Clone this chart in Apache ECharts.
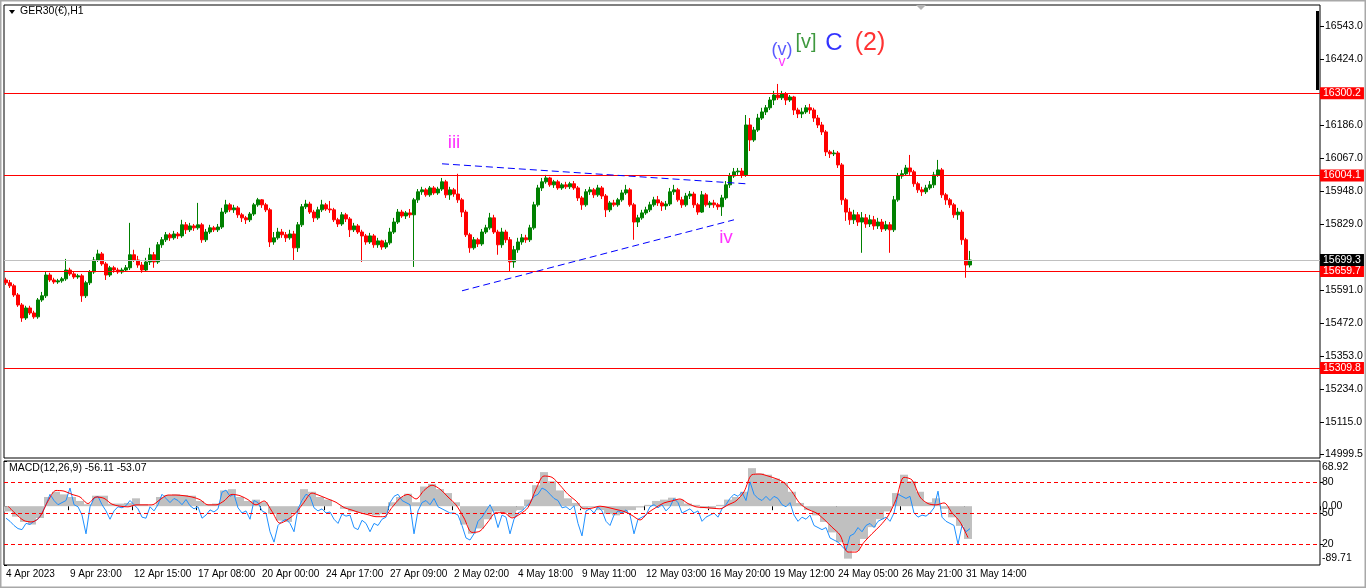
<!DOCTYPE html>
<html>
<head>
<meta charset="utf-8">
<script src="https://cdn.jsdelivr.net/npm/echarts@6/dist/echarts.min.js"></script>
<style>
html,body{margin:0;padding:0;background:#fff;}
#chart{width:1366px;height:588px;}
</style>
</head>
<body>
<div id="chart"></div>
<script>
// ---------- DATA ----------
const symbolTitle = 'GER30(€),H1';
const macdTitle = 'MACD(12,26,9) -56.11 -53.07';

// time-slot tick labels (one every 16 slots)
const dateLabels = ['4 Apr 2023','9 Apr 23:00','12 Apr 15:00','17 Apr 08:00','20 Apr 00:00','24 Apr 17:00','27 Apr 09:00','2 May 02:00','4 May 18:00','9 May 11:00','12 May 03:00','16 May 20:00','19 May 12:00','24 May 05:00','26 May 21:00','31 May 14:00'];

// candles [open, close, low, high]
const candles = [
[15627,15617,15609,15635],[15617,15606,15598,15627],[15606,15573,15566,15613],[15573,15537,15530,15580],[15537,15490,15476,15544],
[15490,15526,15483,15534],[15526,15508,15501,15534],[15508,15494,15487,15516],[15494,15555,15487,15562],[15555,15570,15548,15584],
[15570,15645,15562,15656],[15645,15627,15620,15653],[15627,15620,15613,15635],[15620,15624,15613,15631],[15624,15631,15617,15638],
[15631,15663,15624,15703],[15663,15649,15642,15671],[15649,15638,15631,15656],[15638,15642,15631,15649],[15642,15570,15548,15649],
[15570,15617,15562,15624],[15617,15656,15609,15663],[15656,15699,15649,15710],[15699,15721,15692,15736],[15721,15685,15678,15728],
[15685,15645,15627,15692],[15645,15671,15638,15678],[15671,15663,15653,15678],[15663,15656,15649,15671],[15656,15663,15649,15671],
[15663,15671,15656,15681],[15671,15718,15663,15833],[15718,15699,15692,15736],[15699,15681,15671,15714],[15681,15663,15653,15692],
[15663,15692,15656,15707],[15692,15718,15681,15743],[15718,15692,15671,15728],[15692,15754,15685,15764],[15754,15772,15743,15782],
[15772,15790,15764,15800],[15790,15779,15768,15797],[15779,15793,15772,15804],[15793,15786,15775,15800],[15786,15826,15779,15844],
[15826,15808,15793,15836],[15808,15822,15800,15833],[15822,15815,15804,15829],[15815,15826,15808,15905],[15826,15772,15761,15833],
[15772,15800,15764,15811],[15800,15815,15793,15826],[15815,15808,15800,15822],[15808,15818,15800,15829],[15818,15872,15811,15887],
[15872,15898,15865,15916],[15898,15880,15872,15905],[15880,15887,15869,15898],[15887,15862,15851,15894],[15862,15851,15836,15869],
[15851,15844,15829,15858],[15844,15865,15836,15872],[15865,15898,15858,15905],[15898,15916,15891,15923],[15916,15898,15887,15919],
[15898,15880,15872,15905],[15880,15764,15746,15887],[15764,15779,15754,15800],[15779,15800,15772,15815],[15800,15790,15779,15811],
[15790,15779,15764,15800],[15779,15793,15772,15808],[15793,15743,15699,15804],[15743,15826,15728,15836],[15826,15891,15818,15901],
[15891,15901,15883,15916],[15901,15872,15865,15909],[15872,15851,15836,15880],[15851,15880,15844,15891],[15880,15898,15872,15916],
[15898,15883,15876,15905],[15883,15880,15869,15912],[15880,15844,15836,15887],[15844,15829,15818,15851],[15829,15862,15822,15872],
[15862,15847,15836,15869],[15847,15808,15782,15854],[15808,15822,15800,15833],[15822,15800,15793,15829],[15800,15786,15692,15808],
[15786,15764,15754,15793],[15764,15786,15757,15797],[15786,15754,15743,15793],[15754,15768,15743,15779],[15768,15746,15736,15772],
[15746,15761,15739,15772],[15761,15800,15754,15815],[15800,15836,15793,15851],[15836,15872,15829,15883],[15872,15858,15851,15880],
[15858,15869,15847,15876],[15869,15862,15851,15883],[15862,15916,15674,15923],[15916,15945,15905,15955],[15945,15952,15934,15963],
[15952,15934,15927,15959],[15934,15959,15927,15966],[15959,15941,15934,15966],[15941,15955,15934,15963],[15955,15981,15948,15995],
[15981,15934,15923,15988],[15934,15952,15916,15963],[15952,15937,15927,15959],[15937,15916,15905,16010],[15916,15872,15854,15923],
[15872,15790,15782,15880],[15790,15743,15725,15797],[15743,15772,15736,15782],[15772,15757,15746,15779],[15757,15800,15750,15811],
[15800,15815,15793,15826],[15815,15851,15808,15869],[15851,15800,15793,15862],[15800,15754,15718,15808],[15754,15800,15743,15815],
[15800,15772,15761,15808],[15772,15692,15656,15782],[15692,15736,15671,15750],[15736,15764,15725,15779],[15764,15779,15754,15793],
[15779,15772,15761,15790],[15772,15815,15764,15826],[15815,15898,15808,15909],[15898,15959,15891,15970],[15959,15981,15948,15995],
[15981,15995,15974,16006],[15995,15970,15963,15999],[15970,15981,15959,15988],[15981,15959,15952,15988],[15959,15970,15952,15977],
[15970,15963,15955,15981],[15963,15974,15955,15981],[15974,15959,15952,15984],[15959,15923,15912,15966],[15923,15898,15880,15930],
[15898,15945,15891,15955],[15945,15952,15934,15963],[15952,15934,15923,15959],[15934,15959,15927,15970],[15959,15930,15919,15966],
[15930,15880,15854,15937],[15880,15905,15872,15912],[15905,15898,15891,15916],[15898,15916,15891,15923],[15916,15941,15909,15952],
[15941,15952,15934,15970],[15952,15898,15891,15959],[15898,15836,15772,15905],[15836,15851,15818,15862],[15851,15869,15844,15880],
[15869,15880,15862,15891],[15880,15898,15872,15909],[15898,15916,15891,15927],[15916,15905,15894,15930],[15905,15894,15876,15912],
[15894,15901,15880,15912],[15901,15945,15894,15959],[15945,15952,15934,15970],[15952,15916,15909,15959],[15916,15898,15887,15927],
[15898,15930,15891,15941],[15930,15937,15919,15948],[15937,15898,15887,15945],[15898,15872,15862,15905],[15872,15934,15869,15948],
[15934,15898,15891,15941],[15898,15905,15887,15912],[15905,15898,15887,15916],[15898,15891,15880,15905],[15891,15923,15858,15934],
[15923,15970,15916,15984],[15970,16002,15959,16013],[16002,16017,15995,16031],[16017,16020,16006,16031],[16020,16006,15995,16031],
[16006,16186,15999,16222],[16186,16132,16092,16211],[16132,16168,16125,16179],[16168,16211,16161,16226],[16211,16233,16204,16248],
[16233,16248,16222,16258],[16248,16276,16240,16287],[16276,16294,16258,16309],[16294,16284,16276,16334],[16284,16298,16276,16309],
[16298,16276,16258,16305],[16276,16287,16269,16294],[16287,16240,16222,16291],[16240,16226,16211,16248],[16226,16233,16211,16248],
[16233,16248,16226,16258],[16248,16240,16226,16262],[16240,16211,16197,16248],[16211,16186,16175,16222],[16186,16161,16150,16197],
[16161,16089,16074,16168],[16089,16082,16067,16096],[16082,16085,16074,16096],[16085,16042,16031,16092],[16042,15916,15898,16049],
[15916,15872,15840,15923],[15872,15844,15826,15887],[15844,15862,15829,15880],[15862,15836,15822,15872],[15836,15851,15725,15872],
[15851,15829,15815,15865],[15829,15844,15818,15862],[15844,15822,15808,15858],[15822,15836,15811,15851],[15836,15811,15800,15847],
[15811,15826,15804,15840],[15826,15808,15725,15836],[15808,15916,15800,15930],[15916,16002,15909,16013],[16002,16010,15992,16024],
[16010,16031,16002,16042],[16031,16017,16006,16078],[16017,15974,15963,16024],[15974,15952,15941,15981],[15952,15945,15930,15963],
[15945,15959,15937,15970],[15959,15970,15952,15984],[15970,16006,15959,16017],[16006,16024,15999,16060],[16024,15934,15923,16031],
[15934,15916,15898,15941],[15916,15898,15887,15923],[15898,15862,15851,15905],[15862,15872,15844,15887],[15872,15772,15754,15880],
[15772,15681,15635,15779],[15681,15699,15672,15732]
];

// oscillator in the lower window (0-100 scale), one value per candle
const oscLine = [
45,42,38,35,34,40,39,42,44,50, 58,68,62,58,60,62,74,58,56,48,
30,56,64,66,58,52,44,52,56,55, 57,62,58,54,46,45,56,52,58,68,
64,60,64,62,58,63,57,54,56,45, 48,53,51,54,70,72,66,68,55,50,
52,44,62,60,52,50,32,22,38,42, 44,40,32,54,62,68,66,55,52,54,
50,51,44,40,49,47,48,36,34,43, 40,32,40,38,44,46,60,66,68,62,
60,58,30,52,60,62,58,64,56,54, 52,50,50,48,38,26,24,30,42,46,
52,58,50,36,48,46,30,44,50,52, 56,60,66,68,74,72,68,64,62,55,
56,53,57,40,28,52,54,50,56,52, 42,38,48,52,50,53,48,30,44,46,
48,56,58,55,58,52,56,64,60,50, 52,54,50,52,42,46,48,50,46,54,
58,64,68,66,70,62,80,68,64,62, 66,62,66,64,58,56,60,48,42,46,
44,48,38,36,34,36,26,24,22,18, 14,28,30,36,32,38,40,36,42,44,
46,42,50,68,66,64,66,50,46,48, 47,50,55,71,46,42,40,38,20,38,
32,35
];

// MACD main (histogram) and signal, one value per two candles
const macdMain = [
-8,-16,-24,-28,-18,14,22,18,14,8, 3,16,16,4,4,5,12,3,1,14,
17,18,17,16,8,3,4,24,26,14, 8,10,6,-12,-22,-24,-10,26,22,14,
10,0,-4,-8,-10,-12,-14,-12,6,14, 19,6,30,34,26,20,6,-28,-42,-34,
-20,-8,-10,-16,-6,10,32,52,38,24, 12,5,-4,-2,-6,-12,-14,-10,-6,-2,
2,8,10,13,10,4,2,-3,-4,2, 10,14,22,58,50,48,42,36,22,5,
-6,-14,-24,-40,-55,-80,-68,-50,-32,-20, -8,20,48,38,22,6,12,-4,-17,-30,
-50
];
const macdSignal = [
0,-12,-22,-24,-16,8,24,23,18,14, 4,14,12,3,0,-1,2,2,2,10,
17,17,16,14,10,2,2,8,18,16, 10,2,8,-8,-26,-20,-10,6,20,16,
11,6,-2,-6,-10,-13,-16,-16,-2,12, 18,11,24,32,26,14,2,-18,-40,-38,
-24,-10,-10,-18,-12,-2,26,46,44,32, 18,8,-4,-3,0,-2,-5,-8,-14,-21,
-10,-2,5,8,11,4,-1,-2,-3,-4, 2,8,22,48,49,46,42,36,22,4,
-5,-10,-20,-32,-44,-70,-70,-55,-42,-30, -15,10,44,40,14,4,2,5,-10,-24,
-48
];

// price axis tick labels and horizontal levels
const priceTicks = [16543.0,16424.0,16186.0,16067.0,15948.0,15829.0,15591.0,15472.0,15353.0,15234.0,15115.0,14999.5];
const priceLevels = [16300.2,16004.1,15659.7,15309.8];
const bidPrice = 15699.3;
const macdTicks = [68.92, 0, -89.71];
const oscLevels = [80, 50, 20];

// trend lines [slot, price]
const trendUpper = [[109,16046],[185,15974]];
const trendLower = [[114,15588],[182,15844]];

// wave labels
const waveText = ['iii','iv','(v)','v','[v]','C','(2)'];
const waveAt = [[112,16121],[180,15779],[194,16457],[194,16413],[200,16482],[207,16482],[216,16482]];

// ---------- CHART ----------
const N_SLOTS = 329;
const STEP = 16;
const slots = Array.from({length:N_SLOTS},(_,i)=>String(i));
const isLabelSlot = (i)=> i % STEP === 0 && (i/STEP) < dateLabels.length;
const FONT = 'Liberation Sans';

const waveColor = ['#ff00ff','#ff00ff','#2f2fff','#ff00ff','#0f800f','#0000ff','#ff0000'];
const waveSize = [19,19,18,14,20,24,25];

const boxLabel = (bg)=>({show:true, position:'end', distance:0, backgroundColor:bg, color:'#fff',
  padding:[1,3,0,3], fontSize:10.5, fontFamily:FONT, lineHeight:11});

const chart = echarts.init(document.getElementById('chart'), null, {renderer:'canvas'});
const option = {
  animation:false,
  backgroundColor:'#ffffff',
  textStyle:{fontFamily:FONT},
  grid:[
    {left:4,right:46,top:5,height:453,show:true,borderColor:'#000',borderWidth:1,backgroundColor:'transparent'},
    {left:4,right:46,top:461,height:104,show:true,borderColor:'#000',borderWidth:1,backgroundColor:'transparent'}
  ],
  xAxis:[
    {type:'category',gridIndex:0,data:slots,boundaryGap:true,axisLine:{show:false},axisTick:{show:false},axisLabel:{show:false},splitLine:{show:false}},
    {type:'category',gridIndex:1,data:slots,boundaryGap:true,axisLine:{show:false},
      axisTick:{show:true,interval:isLabelSlot,length:4,lineStyle:{color:'#000'}},
      axisLabel:{show:true,interval:isLabelSlot,align:'left',margin:4,fontSize:10,color:'#000',fontFamily:FONT,
        formatter:(v,i)=>{const k=Number(v)/STEP; return Number.isInteger(k)&&dateLabels[k]?dateLabels[k]:'';}},
      splitLine:{show:false}},
    {type:'value',gridIndex:1,min:0,max:N_SLOTS,show:false}
  ],
  yAxis:[
    {type:'value',gridIndex:0,position:'right',min:14985,max:16618.7,
      axisLine:{show:false},
      axisTick:{show:true,customValues:priceTicks,length:4,lineStyle:{color:'#000'}},
      axisLabel:{show:true,customValues:priceTicks,margin:5,fontSize:10.5,color:'#000',fontFamily:FONT,formatter:v=>Number(v).toFixed(1)},
      splitLine:{show:false}},
    {type:'value',gridIndex:1,position:'right',min:-89.71,max:68.92,
      axisLine:{show:false},
      axisTick:{show:true,customValues:macdTicks,length:3,lineStyle:{color:'#000'}},
      axisLabel:{show:true,customValues:macdTicks,margin:2,fontSize:10.5,color:'#000',fontFamily:FONT,
        formatter:v=>{ if(Math.abs(v-macdTicks[0])<1e-6) return '{t|'+v.toFixed(2)+'}';
                        if(Math.abs(v-macdTicks[2])<1e-6) return '{b|'+v.toFixed(2)+'}';
                        return Number(v).toFixed(2);},
        rich:{t:{padding:[12,0,0,0],fontSize:10.5,fontFamily:FONT,color:'#000'},b:{padding:[0,0,14,0],fontSize:10.5,fontFamily:FONT,color:'#000'}}},
      splitLine:{show:false}},
    {type:'value',gridIndex:1,position:'right',min:0,max:100,
      axisLine:{show:false},
      axisTick:{show:true,customValues:oscLevels,length:3,lineStyle:{color:'#000'}},
      axisLabel:{show:true,customValues:oscLevels,margin:2,fontSize:10.5,color:'#000',fontFamily:FONT,formatter:v=>String(v)},
      splitLine:{show:false}}
  ],
  series:[
    // horizontal levels and trend lines, drawn behind the candles
    {type:'line',xAxisIndex:0,yAxisIndex:0,data:[],z:1,silent:true,
      markLine:{silent:true,symbol:['none','none'],animation:false,
        lineStyle:{color:'#ff0000',width:1,type:'solid',opacity:1},
        data:[
          ...priceLevels.map(v=>({yAxis:v,lineStyle:{color:'#ff0000',width:1,type:'solid',opacity:1},label:{...boxLabel('#ff0000'),formatter:v.toFixed(1)}})),
          {yAxis:bidPrice,lineStyle:{color:'#c0c0c0',width:1,type:'solid'},label:{...boxLabel('#000000'),formatter:bidPrice.toFixed(1)}},
          [{coord:trendUpper[0],lineStyle:{color:'#0000ff',width:1,type:[7,4]},label:{show:false}},{coord:trendUpper[1]}],
          [{coord:trendLower[0],lineStyle:{color:'#0000ff',width:1,type:[7,4]},label:{show:false}},{coord:trendLower[1]}]
        ]}},
    {type:'candlestick',xAxisIndex:0,yAxisIndex:0,data:candles,barWidth:3,z:3,
      itemStyle:{color:'#008000',color0:'#ff0000',borderColor:'#008000',borderColor0:'#ff0000',borderWidth:1}},
    {type:'scatter',xAxisIndex:0,yAxisIndex:0,symbolSize:0,z:5,silent:true,
      data:waveText.map((t,k)=>({name:t,value:waveAt[k],label:{color:waveColor[k],fontSize:waveSize[k]}})),
      label:{show:true,position:'inside',formatter:'{b}',fontFamily:FONT}},
    {type:'bar',xAxisIndex:2,yAxisIndex:1,barWidth:8,z:1,
      data:macdMain.map((v,j)=>[2*j+1,v]),itemStyle:{color:'#c0c0c0'}},
    {type:'line',xAxisIndex:1,yAxisIndex:2,data:oscLine,showSymbol:false,z:2,
      lineStyle:{color:'#1e90ff',width:1},
      markLine:{silent:true,symbol:['none','none'],animation:false,
        data:oscLevels.map(v=>({yAxis:v})),
        lineStyle:{color:'#ff0000',width:1,type:[4,3]},label:{show:false}}},
    {type:'line',xAxisIndex:2,yAxisIndex:1,data:macdSignal.map((v,j)=>[2*j+1,v]),showSymbol:false,smooth:0.3,z:3,
      lineStyle:{color:'#ff0000',width:1}}
  ],
  graphic:[
    {type:'rect',shape:{x:0.5,y:0.5,width:1365,height:587},style:{fill:'none',stroke:'#a8a8a8',lineWidth:2},silent:true},
    {type:'polygon',shape:{points:[[9,10],[15,10],[12,14]]},style:{fill:'#000'}},
    {type:'text',x:20,y:6,style:{text:symbolTitle,fontSize:10.5,fontFamily:FONT,fill:'#000'}},
    {type:'text',x:9,y:463,style:{text:macdTitle,fontSize:10.5,fontFamily:FONT,fill:'#000'}},
    {type:'rect',shape:{x:1316,y:11,width:3,height:79},style:{fill:'#000'}},
    {type:'polygon',shape:{points:[[916,5],[926,5],[921,10]]},style:{fill:'#b4b4b4'}}
  ]
};
chart.setOption(option);
</script>
</body>
</html>
